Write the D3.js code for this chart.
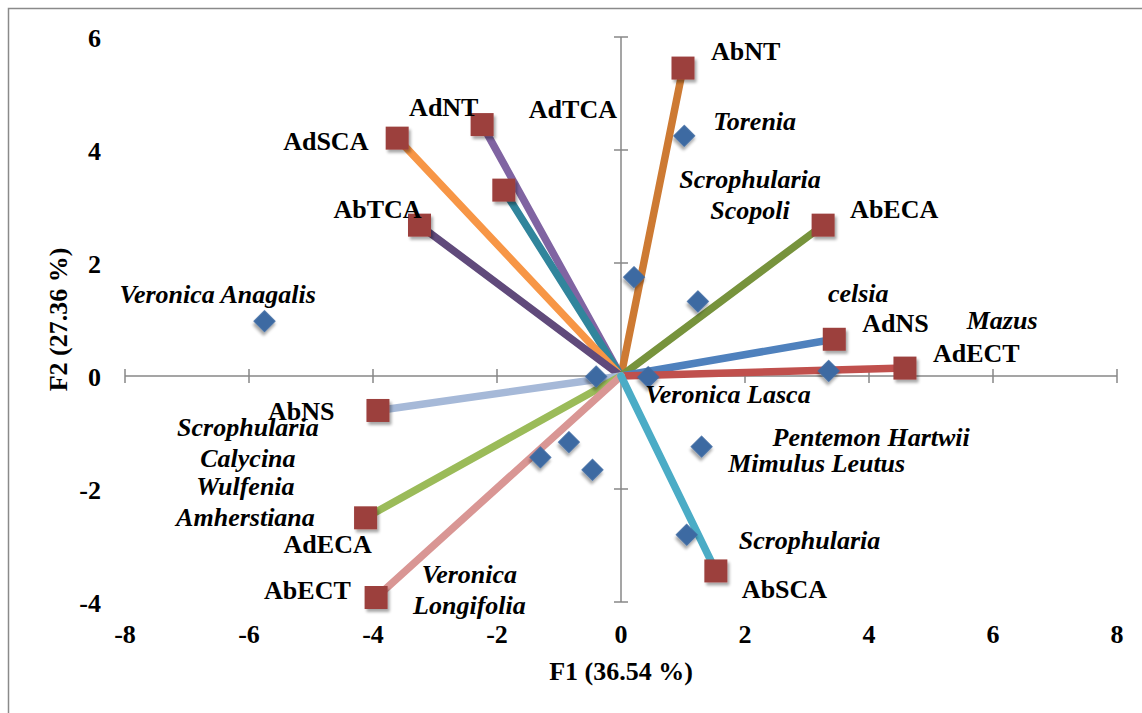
<!DOCTYPE html>
<html>
<head>
<meta charset="utf-8">
<script src="https://cdn.jsdelivr.net/npm/d3@7"></script>
<style>
  html, body { margin: 0; padding: 0; background: #ffffff; }
  svg { display: block; }
  text { font-family: "Liberation Serif", "Times New Roman", serif; font-weight: bold; fill: #000; }
</style>
</head>
<body>
<svg id="chart" width="1142" height="713"></svg>
<script>
// Variables (loadings) — endpoints of the vectors from the origin
const varNames = ["AbNT", "AdNT", "AdTCA", "AdSCA", "AbTCA", "AbECA", "AdNS", "AdECT", "AbNS", "AdECA", "AbECT", "AbSCA"];
const varF1 = [1.00, -2.24, -1.89, -3.61, -3.25, 3.26, 3.44, 4.58, -3.92, -4.12, -3.95, 1.53];
const varF2 = [5.45, 4.45, 3.29, 4.21, 2.67, 2.67, 0.65, 0.14, -0.61, -2.51, -3.92, -3.45];
const varColors = ["#cd7a33", "#8064a2", "#31859c", "#f79646", "#604a7b", "#77933c", "#4f81bd", "#c0504d", "#a6b9d8", "#9bbb59", "#d99694", "#4bacc6"];

// Observations (species scores)
const obsNames = [
  ["Torenia"],
  ["Scrophularia", "Scopoli"],
  ["celsia"],
  ["Mazus"],
  ["Veronica Anagalis"],
  ["Veronica Lasca"],
  ["Pentemon Hartwii"],
  ["Mimulus Leutus"],
  ["Scrophularia"],
  ["Veronica", "Longifolia"],
  ["Scrophularia", "Calycina"],
  ["Wulfenia", "Amherstiana"]
];
const obsF1 = [1.02, 0.21, 1.24, 3.35, -5.75, 0.44, 1.30, -0.40, 1.06, -1.30, -0.84, -0.46];
const obsF2 = [4.25, 1.75, 1.32, 0.09, 0.97, -0.02, -1.25, -0.01, -2.81, -1.44, -1.17, -1.66];

const xTicks = [-8, -6, -4, -2, 0, 2, 4, 6, 8];
const yTicks = [-4, -2, 0, 2, 4, 6];
const xTitle = "F1 (36.54 %)";
const yTitle = "F2 (27.36 %)";

// Label placement (pixel offsets from each marker, text anchor)
const varLabelPos = [
  [28, -8, "start"], [-73, -9, "start"], [25, -72, "start"], [-114, 12, "start"],
  [-86, -7, "start"], [27, -7, "start"], [28, -7, "start"], [28, -6, "start"],
  [-110, 10, "start"], [-82, 35, "start"], [-112, 2, "start"], [26, 27, "start"]
];
const obsLabelPos = [
  [29, -6, "start"], [116, -89, "middle"], [130, 1, "start"], [138, -42, "start"],
  [-145, -18, "start"], [-3, 26, "start"], [71, -1, "start"], [132, 95, "start"],
  [52, 14, "start"], [-71, 126, "middle"], [-321, -6, "middle"], [-347, 25, "middle"]
];

const W = 1142, H = 713;
const plot = { left: 125, right: 1117, top: 37, bottom: 602 };
const x = d3.scaleLinear().domain([-8, 8]).range([plot.left, plot.right]);
const y = d3.scaleLinear().domain([-4, 6]).range([plot.bottom, plot.top]);

const svg = d3.select("#chart");
svg.append("rect").attr("width", W).attr("height", H).attr("fill", "#fff");

// soft shadow for markers
const defs = svg.append("defs");
const f = defs.append("filter").attr("id", "shadow").attr("x", "-50%").attr("y", "-50%").attr("width", "200%").attr("height", "200%");
f.append("feGaussianBlur").attr("in", "SourceAlpha").attr("stdDeviation", 1.6).attr("result", "b");
f.append("feOffset").attr("in", "b").attr("dx", 2).attr("dy", 2.5).attr("result", "o");
f.append("feComponentTransfer").attr("in", "o").attr("result", "s")
  .append("feFuncA").attr("type", "linear").attr("slope", 0.35);
const fm = f.append("feMerge");
fm.append("feMergeNode").attr("in", "s");
fm.append("feMergeNode").attr("in", "SourceGraphic");

// outer frame (left and top edges)
svg.append("path")
  .attr("d", `M8.5,${H} L8.5,8.5 L${W},8.5`)
  .attr("fill", "none").attr("stroke", "#8a8a8a").attr("stroke-width", 1.5);

// axes crossing at the origin, with ticks straddling the line
const axisColor = "#878787";
const tickLen = 7;
const axes = svg.append("g").attr("stroke", axisColor).attr("stroke-width", 1.5).attr("fill", "none");
axes.append("line").attr("x1", x(-8)).attr("x2", x(8)).attr("y1", y(0)).attr("y2", y(0));
axes.append("line").attr("x1", x(0)).attr("x2", x(0)).attr("y1", y(-4)).attr("y2", y(6));
axes.selectAll(".xt").data(xTicks).join("line")
  .attr("x1", d => x(d)).attr("x2", d => x(d))
  .attr("y1", y(0) - tickLen).attr("y2", y(0) + tickLen);
axes.selectAll(".yt").data(yTicks).join("line")
  .attr("x1", x(0) - tickLen).attr("x2", x(0) + tickLen)
  .attr("y1", d => y(d)).attr("y2", d => y(d));

// tick labels at the low edges of the plot
svg.append("g").selectAll("text").data(xTicks).join("text")
  .attr("x", d => x(d)).attr("y", plot.bottom + 41)
  .attr("text-anchor", "middle").attr("font-size", 26)
  .text(d => d);
svg.append("g").selectAll("text").data(yTicks).join("text")
  .attr("x", 101).attr("y", d => y(d) + 10)
  .attr("text-anchor", "end").attr("font-size", 26)
  .text(d => d);

// axis titles
svg.append("text").attr("x", x(0)).attr("y", 680)
  .attr("text-anchor", "middle").attr("font-size", 26).text(xTitle);
svg.append("text").attr("transform", `translate(67,${(plot.top + plot.bottom) / 2}) rotate(-90)`)
  .attr("text-anchor", "middle").attr("font-size", 26).text(yTitle);

// vectors from the origin
const vars = varNames.map((n, i) => ({ name: n, f1: varF1[i], f2: varF2[i], color: varColors[i], pos: varLabelPos[i] }));
const obs = obsNames.map((n, i) => ({ lines: n, f1: obsF1[i], f2: obsF2[i], pos: obsLabelPos[i] }));

svg.append("g").selectAll("line").data(vars).join("line")
  .attr("x1", x(0)).attr("y1", y(0))
  .attr("x2", d => x(d.f1)).attr("y2", d => y(d.f2))
  .attr("stroke", d => d.color).attr("stroke-width", 7.5).attr("stroke-linecap", "round");

// observation markers (diamonds)
const diamond = d3.symbol(d3.symbolSquare, 250);
svg.append("g").selectAll("path").data(obs).join("path")
  .attr("d", diamond)
  .attr("transform", d => `translate(${x(d.f1)},${y(d.f2)}) rotate(45)`)
  .attr("fill", "#3e6aa2").attr("filter", "url(#shadow)");

// variable markers (squares)
const square = d3.symbol(d3.symbolSquare, 23 * 23);
svg.append("g").selectAll("path").data(vars).join("path")
  .attr("d", square)
  .attr("transform", d => `translate(${x(d.f1)},${y(d.f2)})`)
  .attr("fill", "#9c3f3c").attr("filter", "url(#shadow)");

// variable labels
svg.append("g").selectAll("text").data(vars).join("text")
  .attr("x", d => x(d.f1) + d.pos[0]).attr("y", d => y(d.f2) + d.pos[1])
  .attr("text-anchor", d => d.pos[2]).attr("font-size", 26)
  .text(d => d.name);

// observation labels (italic, possibly multi-line)
const lineGap = 31;
const ol = svg.append("g").selectAll("text").data(obs).join("text")
  .attr("x", d => x(d.f1) + d.pos[0]).attr("y", d => y(d.f2) + d.pos[1])
  .attr("text-anchor", d => d.pos[2]).attr("font-size", 26).attr("font-style", "italic");
ol.selectAll("tspan").data(d => d.lines.map((t, k) => ({ t, k, d }))).join("tspan")
  .attr("x", e => x(e.d.f1) + e.d.pos[0])
  .attr("dy", e => e.k === 0 ? 0 : lineGap)
  .text(e => e.t);
</script>
</body>
</html>
